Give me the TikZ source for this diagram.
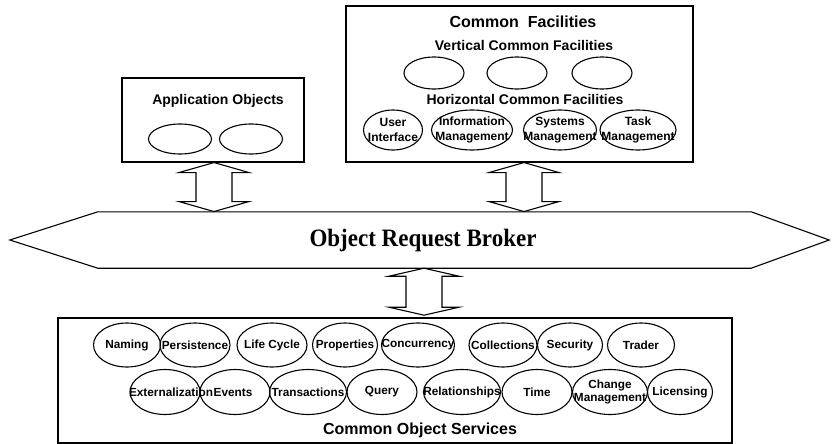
\documentclass[tikz,border=0pt]{standalone}
\usepackage{fontspec}
\setmainfont{Liberation Sans}
\newfontfamily\orbfont{Liberation Serif}
\usetikzlibrary{shapes.geometric,calc}
\begin{document}
\begin{tikzpicture}[x=1pt,y=-1pt,
  ln/.style={line width=1.1pt, line join=miter},
  box/.style={ln, draw, rectangle, inner sep=0pt},
  el/.style 2 args={ln, draw, ellipse, inner sep=0pt, minimum width=#1, minimum height=#2},
  title/.style={font=\bfseries\fontsize{14}{16}\selectfont, inner sep=0pt},
  lbl/.style={font=\bfseries\fontsize{11.8}{13}\selectfont, inner sep=0pt, align=center},
  lblcf/.style={font=\bfseries\fontsize{12}{15}\selectfont, inner sep=0pt, align=center},
  pics/dblarr/.style 2 args={code={
    \draw[ln, fill=white] (0,0) -- (35,#2) -- (18,#2) -- (18,#1-#2) -- (35,#1-#2) -- (0,#1)
      -- (-35,#1-#2) -- (-18,#1-#2) -- (-18,#2) -- (-35,#2) -- cycle;}}
]
\useasboundingbox (0,0) rectangle (832,444);

% Application Objects
\node[box, minimum width=182, minimum height=84] (app) at (213,120) {};
\node[title] (apptitle) at (218,101) {Application Objects};
\node[el={63}{30}] (ao1) at (180,139) {};
\node[el={63}{30}] (ao2) at (251,139) {};

% Common Facilities
\node[box, minimum width=347, minimum height=156] (cf) at (519.5,84) {};
\node[title, font=\bfseries\fontsize{16}{18}\selectfont] (cftitle) at (523,22) {Common~ Facilities};
\node[title] (vcf) at (524,45) {Vertical Common Facilities};
\node[el={60}{32}] (v1) at (434,73) {};
\node[el={60}{32}] (v2) at (517,73) {};
\node[el={60}{32}] (v3) at (602,73) {};
\node[title] (hcf) at (525,99) {Horizontal Common Facilities};
\node[el={59}{40}] (ui) at (393,130) {};
\node[lblcf] at (ui.center) {User\\Interface};
\node[el={81}{40}] (im) at (472,130) {};
\node[lblcf] at (im.center) {Information\\Management};
\node[el={73}{40}] (sm) at (560,130) {};
\node[lblcf] at (sm.center) {Systems\\Management};
\node[el={76}{40}] (tm) at (638,130) {};
\node[lblcf] at (tm.center) {Task\\Management};

% Object Request Broker
\node[inner sep=0pt, minimum width=653, minimum height=56] (orb) at (424.5,240) {};
\draw[ln] (orb.north west) -- (orb.north east) -- ($(orb.east)+(78,0)$) -- (orb.south east)
  -- (orb.south west) -- ($(orb.west)+(-88,0)$) -- cycle;
\node[inner sep=0pt, font=\orbfont\bfseries\fontsize{25}{28}\selectfont] (orbtext) at (423,240) {\scalebox{0.92}[1]{Object Request Broker}};

% Common Object Services
\node[box, minimum width=674, minimum height=125] (cos) at (395,380.5) {};
\node[title, font=\bfseries\fontsize{16}{18}\selectfont] (costitle) at (420,430) {Common Object Services};

% row 1
\node[el={67}{44}] (naming) at (127,345) {};
\node[lbl] at (naming.center) {Naming};
\node[el={70}{44}] (pers) at (195,345) {};
\node[lbl] at (pers.center) {Persistence};
\node[el={70}{44}] (life) at (272,345) {};
\node[lbl] at (life.center) {Life Cycle};
\node[el={65}{44}] (prop) at (345,345) {};
\node[lbl] at (prop.center) {Properties};
\node[el={73}{44}] (conc) at (418,345) {};
\node[lbl] at (conc.center) {Concurrency};
\node[el={68}{44}] (coll) at (503,345) {};
\node[lbl] at (coll.center) {Collections};
\node[el={65}{44}] (sec) at (570,345) {};
\node[lbl] at (sec.center) {Security};
\node[el={67}{44}] (trader) at (641,345) {};
\node[lbl] at (trader.center) {Trader};

% row 2
\node[el={70}{45}] (ext) at (165,392) {};
\node[lbl] at (171,392) {Externalization};
\node[el={70}{45}] (events) at (235,392) {};
\node[lbl] at (233,392) {Events};
\node[el={77}{45}] (trans) at (308,392) {};
\node[lbl] at (trans.center) {Transactions};
\node[el={70}{45}] (query) at (382,392) {};
\node[lbl] at (query.center) {Query};
\node[el={77}{45}] (rel) at (462,392) {};
\node[lbl] at (rel.center) {Relationships};
\node[el={70}{45}] (time) at (537,392) {};
\node[lbl] at (time.center) {Time};
\node[el={75}{45}] (chg) at (610,392) {};
\node[lbl] at (chg.center) {Change\\Management};
\node[el={65}{45}] (lic) at (680,392) {};
\node[lbl] at (lic.center) {Licensing};

% double arrows
\pic at (214,0 |- app.south) {dblarr={49}{10}};
\pic at (524,0 |- cf.south) {dblarr={49}{10}};
\pic at (424,0 |- orb.south) {dblarr={47}{8}};
\end{tikzpicture}
\end{document}
